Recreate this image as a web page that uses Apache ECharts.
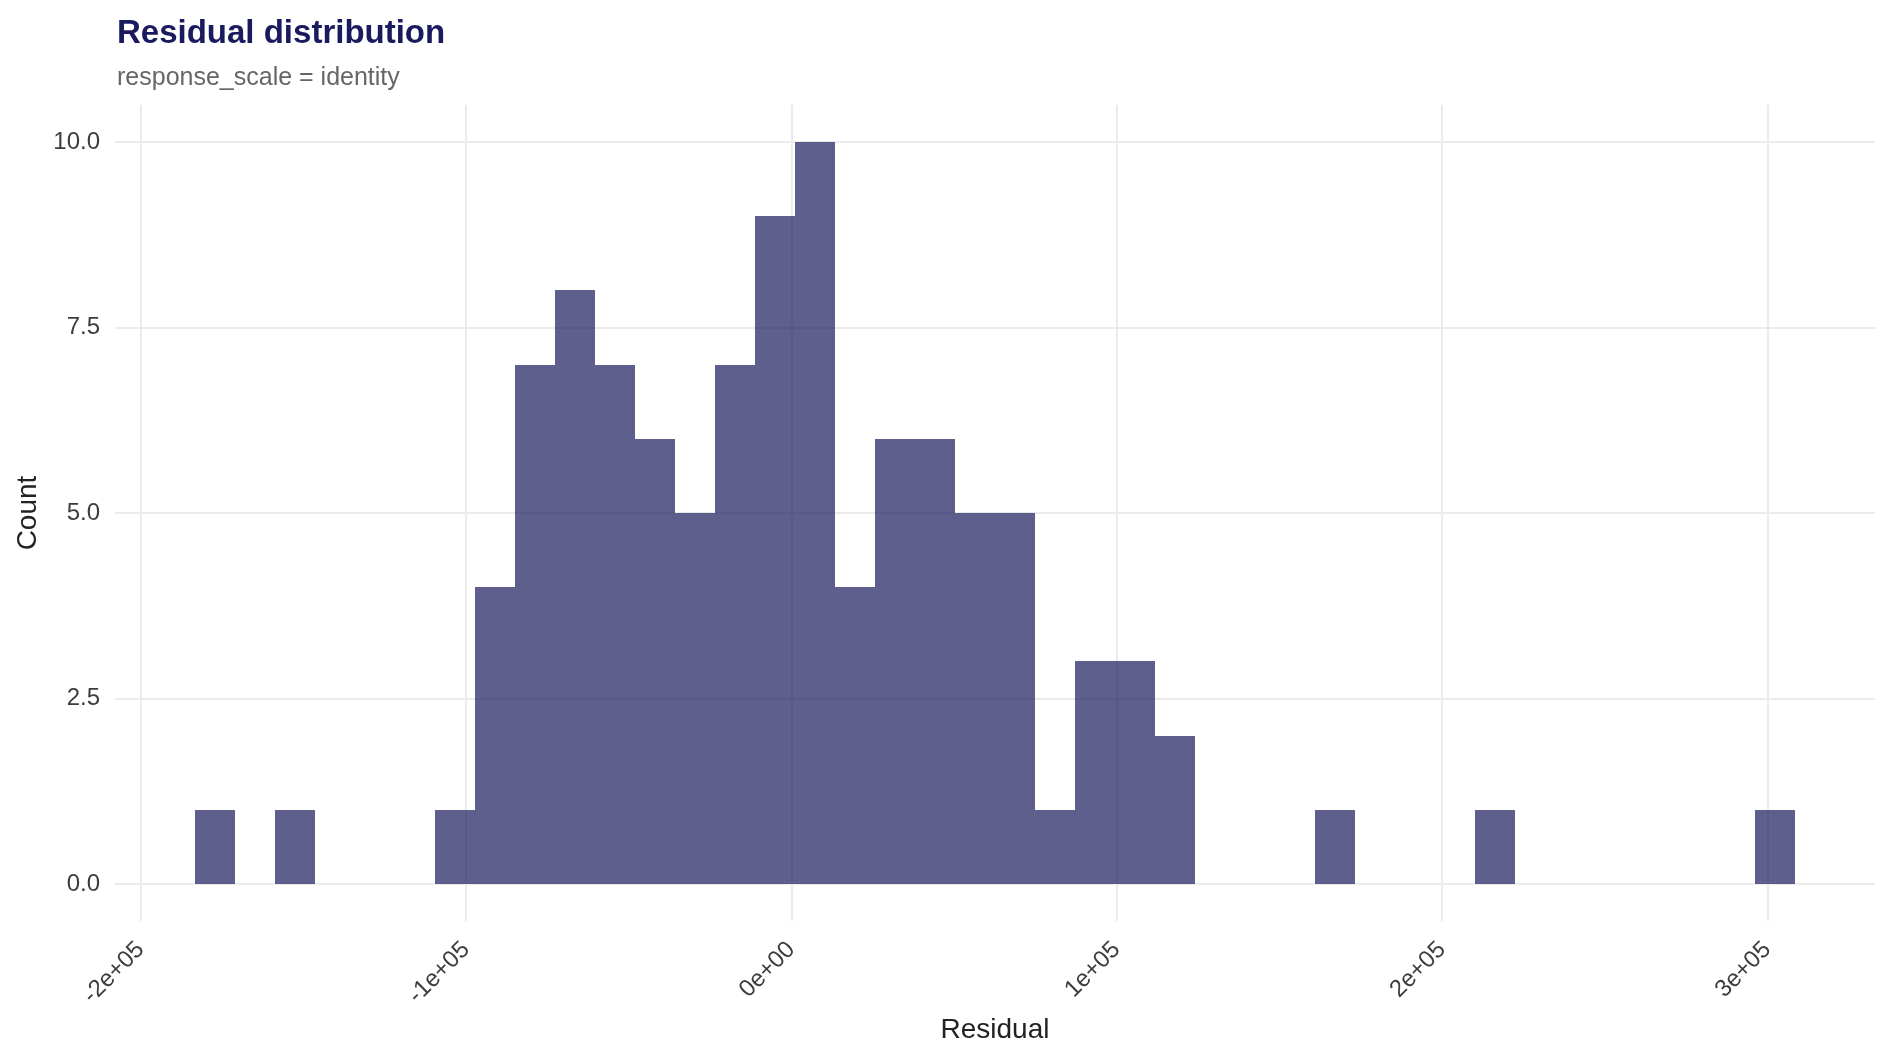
<!DOCTYPE html>
<html>
<head>
<meta charset="utf-8">
<script src="https://cdn.jsdelivr.net/npm/echarts@6/dist/echarts.min.js"></script>
<style>
html,body{margin:0;padding:0;background:#fff;}
#chart{width:1889px;height:1062px;}
</style>
</head>
<body>
<div id="chart"></div>
<script>
// Histogram bins
var binStart = -183287;   // left edge of first bin
var binWidth = 12297;     // width of each bin
var counts = [1,0,1,0,0,0,1,4,7,8,7,6,5,7,9,10,4,6,6,5,5,1,3,3,2,0,0,0,1,0,0,0,1,0,0,0,0,0,0,1];
var xTicks = [-200000,-100000,0,100000,200000,300000];
var yTicks = [0,2.5,5,7.5,10];
var xMin = -207870, xMax = 333108;
var yMin = -0.5, yMax = 10.5;

var binData = counts.map(function(c, i){
  return [binStart + i*binWidth, binStart + (i+1)*binWidth, c];
});

function sci(v){
  if (v === 0) return '0e+00';
  var e = Math.floor(Math.log10(Math.abs(v)));
  var m = Math.round(v / Math.pow(10, e) * 1000) / 1000;
  var ae = Math.abs(e);
  return m + 'e' + (e >= 0 ? '+' : '-') + (ae < 10 ? '0' + ae : ae);
}

var FONT = 'Liberation Sans, Arial, Helvetica, sans-serif';
var chart = echarts.init(document.getElementById('chart'), null, {renderer:'canvas'});
chart.setOption({
  backgroundColor:'#ffffff',
  animation:false,
  title:[
    {text:'Residual distribution', left:117, top:17, padding:0,
     textStyle:{fontFamily:FONT, fontSize:33, fontWeight:'bold', color:'#1a1a5e'}},
    {text:'response_scale = identity', left:117, top:66, padding:0,
     textStyle:{fontFamily:FONT, fontSize:25, fontWeight:'normal', color:'#666666'}}
  ],
  grid:{left:115, right:14, top:105, bottom:141, containLabel:false},
  xAxis:{
    type:'value', min:xMin, max:xMax,
    name:'Residual', nameLocation:'middle', nameGap:95,
    nameTextStyle:{fontFamily:FONT, fontSize:28, color:'#222222'},
    axisLine:{show:false},
    axisTick:{show:false, customValues:xTicks},
    axisLabel:{customValues:xTicks, rotate:45, margin:25, formatter:sci,
      fontFamily:FONT, fontSize:24, color:'#3d3d3d'},
    splitLine:{show:true, lineStyle:{color:'#ebebeb', width:2}}
  },
  yAxis:{
    type:'value', min:yMin, max:yMax,
    name:'Count', nameLocation:'middle', nameGap:72, nameRotate:90,
    nameTextStyle:{fontFamily:FONT, fontSize:28, color:'#222222'},
    axisLine:{show:false},
    axisTick:{show:false, customValues:yTicks},
    axisLabel:{customValues:yTicks, margin:15, formatter:function(v){return v.toFixed(1);},
      fontFamily:FONT, fontSize:24, color:'#3d3d3d'},
    splitLine:{show:true, lineStyle:{color:'#ebebeb', width:2}}
  },
  series:[{
    type:'custom',
    data:binData,
    encode:{x:[0,1], y:2},
    renderItem:function(params, api){
      var c = api.value(2);
      if (!c) return null;
      var p0 = api.coord([api.value(0), 0]);
      var p1 = api.coord([api.value(1), c]);
      var x0 = Math.round(p0[0]), x1 = Math.round(p1[0]);
      var y0 = Math.round(p0[1]), y1 = Math.round(p1[1]);
      return {
        type:'rect',
        shape:{x:x0, y:y1, width:x1-x0, height:y0-y1},
        style:{fill:'#1b1b5e', opacity:0.7}
      };
    }
  }]
});
</script>
</body>
</html>
